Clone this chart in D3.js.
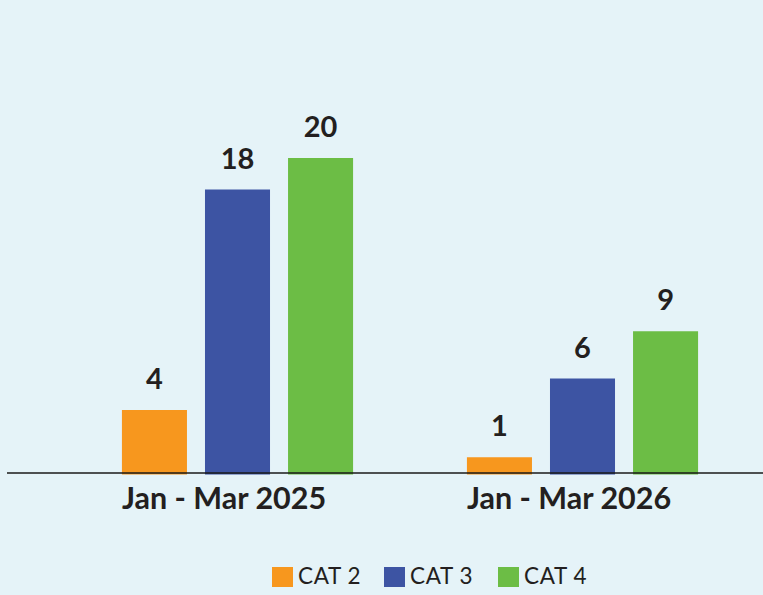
<!DOCTYPE html>
<html>
<head>
<meta charset="utf-8">
<script src="https://cdn.jsdelivr.net/npm/d3@7"></script>
<style>
    html, body { margin: 0; padding: 0; background: #e5f3f8; }
    svg { display: block; font-family: Lato, "Open Sans", sans-serif; }
</style>
</head>
<body>
<div id="chart"></div>
<script>
// chart data
const periods = ["Jan - Mar 2025", "Jan - Mar 2026"];
const seriesNames = ["CAT 2", "CAT 3", "CAT 4"];
const cat2 = [4, 1];
const cat3 = [18, 6];
const cat4 = [20, 9];
const colors = ["#f7971e", "#3d54a3", "#6cbd45"];

const width = 763, height = 595;
const baseY = 473;

const svg = d3.select("#chart").append("svg")
    .attr("width", width)
    .attr("height", height);

svg.append("rect")
    .attr("width", width).attr("height", height)
    .attr("fill", "#e5f3f8");

// build table from the arrays
const table = periods.map((p, i) => ({
    period: p,
    values: [cat2[i], cat3[i], cat4[i]].map((v, j) => ({key: seriesNames[j], value: v}))
}));

const x0 = d3.scaleBand()
    .domain(periods)
    .range([65, 755])
    .paddingInner(0.33)
    .paddingOuter(0.165);

const x1 = d3.scaleBand()
    .domain(seriesNames)
    .range([0, x0.bandwidth()])
    .paddingInner(0.217)
    .paddingOuter(0);

const y = d3.scaleLinear()
    .domain([0, 20])
    .range([baseY, 158]);

const color = d3.scaleOrdinal().domain(seriesNames).range(colors);

const groups = svg.selectAll("g.group")
    .data(table)
    .enter()
    .append("g")
    .attr("class", "group")
    .attr("transform", d => `translate(${x0(d.period)},0)`);

groups.selectAll("rect")
    .data(d => d.values)
    .enter()
    .append("rect")
    .attr("x", d => x1(d.key))
    .attr("y", d => y(d.value))
    .attr("width", x1.bandwidth())
    .attr("height", d => baseY - y(d.value) + 1.5)
    .attr("fill", d => color(d.key));

// value labels
groups.selectAll("text.val")
    .data(d => d.values)
    .enter()
    .append("text")
    .attr("class", "val")
    .attr("x", d => x1(d.key) + x1.bandwidth() / 2)
    .attr("y", d => y(d.value) - 21)
    .attr("text-anchor", "middle")
    .attr("font-size", 29)
    .attr("font-weight", "bold")
    .attr("fill", "#231f20")
    .text(d => d.value);

// baseline
svg.append("line")
    .attr("x1", 7).attr("x2", width)
    .attr("y1", baseY).attr("y2", baseY)
    .attr("stroke", "#1a1a1a")
    .attr("stroke-width", 1.5);

// category labels, left aligned with the first bar of each group
svg.selectAll("text.cat")
    .data(periods)
    .enter()
    .append("text")
    .attr("class", "cat")
    .attr("x", d => x0(d))
    .attr("y", 509)
    .attr("font-size", 30.5)
    .attr("font-weight", "bold")
    .attr("fill", "#231f20")
    .text(d => d);

// legend
const legendX = [272, 384, 498];
const legend = svg.selectAll("g.legend")
    .data(seriesNames)
    .enter()
    .append("g")
    .attr("class", "legend")
    .attr("transform", (d, i) => `translate(${legendX[i]},567)`);

legend.append("rect")
    .attr("width", 21).attr("height", 20)
    .attr("fill", d => color(d));

legend.append("text")
    .attr("x", 26)
    .attr("y", 17)
    .attr("font-size", 22.5)
    .attr("letter-spacing", 0.6)
    .attr("fill", "#231f20")
    .text(d => d);
</script>
</body>
</html>
